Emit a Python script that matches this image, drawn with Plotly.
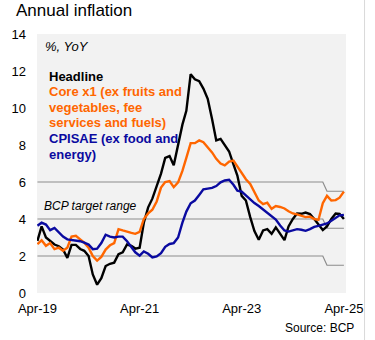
import pandas as pd
import plotly.graph_objects as go

months = pd.date_range("2019-04-01", periods=73, freq="MS")

headline = [2.82, 3.6, 3.0, 2.8, 2.62, 2.53, 2.35, 1.9, 2.6, 2.6, 2.38, 2.28,
            2.0, 1.0, 0.45, 0.8, 1.46, 1.58, 1.64, 2.1, 2.2, 2.62, 2.55, 2.4,
            2.45, 3.8, 4.63, 5.1, 5.75, 6.45, 7.3, 7.4, 6.9, 8.0, 9.1, 9.85,
            11.83, 11.55, 11.45, 11.05, 10.5, 9.4, 8.25, 8.33, 8.0, 7.65, 6.95, 6.35,
            5.25, 5.0, 4.1, 3.35, 2.88, 3.38, 3.45, 3.2, 3.55, 3.2, 2.86, 3.6,
            4.0, 4.3, 4.28, 4.35, 4.27, 4.0, 3.68, 3.4, 3.6, 4.0, 4.3, 4.28, 4.0]

core_x1 = [2.64, 2.85, 2.55, 2.7, 2.37, 2.45, 2.28, 2.45, 3.05, 3.09, 2.9, 2.72,
           2.45, 2.0, 1.75, 1.95, 2.35, 2.58, 2.7, 3.45, 3.38, 3.3, 3.25, 3.2,
           3.3, 4.0, 4.3, 4.5, 4.95, 5.7, 6.0, 6.05, 5.72, 5.98, 6.6, 7.3,
           8.1, 8.1, 8.25, 8.15, 7.9, 7.6, 7.25, 7.0, 6.9, 7.1, 7.16, 6.85,
           6.45, 6.15, 5.9, 5.45, 5.0, 4.8, 4.88, 4.55, 4.7, 4.65, 4.57, 4.42,
           4.3, 4.25, 4.17, 4.1, 4.13, 4.0, 3.95, 4.85, 5.25, 5.0, 5.02, 5.15, 5.48]

cpisae = [3.64, 3.8, 3.7, 3.4, 3.52, 3.3, 3.05, 2.9, 2.86, 2.85, 2.8, 2.72,
          2.62, 2.37, 2.4, 2.7, 3.15, 3.05, 3.0, 3.05, 3.05, 2.8, 2.45, 2.2,
          2.02, 2.25, 2.12, 1.92, 1.98, 2.15, 2.5, 2.65, 2.7, 3.0, 3.8, 4.4,
          4.85, 5.0, 5.3, 5.6, 5.64, 5.68, 5.78, 5.98, 6.08, 6.12, 5.85, 5.53,
          5.48, 5.28, 5.05, 4.86, 4.7, 4.52, 4.32, 4.12, 3.97, 3.65, 3.38, 3.32,
          3.4, 3.45, 3.42, 3.36, 3.45, 3.57, 3.63, 3.68, 3.76, 3.9, 4.07, 4.2, 4.22]

target_upper = [6.0] * 68 + [5.5] * 5
target_mid = [4.0] * 68 + [3.5] * 5
target_lower = [2.0] * 68 + [1.5] * 5

tick_dates = ["2019-04-01", "2021-04-01", "2023-04-01", "2025-04-01"]
tick_labels = ["Apr-19", "Apr-21", "Apr-23", "Apr-25"]
y_ticks = [0, 2, 4, 6, 8, 10, 12, 14]

FONT = "Liberation Sans, Arial, sans-serif"
ORANGE = "#FF6600"
BLUE = "#0A0AA0"
GREY = "#8C8C8C"

fig = go.Figure()
for tgt in (target_upper, target_mid, target_lower):
    fig.add_trace(go.Scatter(x=months, y=tgt, mode="lines",
                             line=dict(color=GREY, width=1.2), hoverinfo="skip"))
fig.add_trace(go.Scatter(x=months, y=headline, mode="lines", name="Headline",
                         line=dict(color="#000000", width=2.4)))
fig.add_trace(go.Scatter(x=months, y=core_x1, mode="lines", name="Core x1",
                         line=dict(color=ORANGE, width=2.4)))
fig.add_trace(go.Scatter(x=months, y=cpisae, mode="lines", name="CPISAE",
                         line=dict(color=BLUE, width=2.4)))

L, T, W, H = 28, 34, 325, 259


def px(x):
    return (x - L) / W


def py(y):
    return (T + H - y) / H


def note(text, x, y, color="#000", size=13, bold=False, italic=False, xanchor="left"):
    if bold:
        text = "<b>" + text + "</b>"
    if italic:
        text = "<i>" + text + "</i>"
    fig.add_annotation(text=text, x=px(x), y=py(y), xref="paper", yref="paper",
                       xanchor=xanchor, yanchor="middle", showarrow=False,
                       font=dict(family=FONT, size=size, color=color))


note("Annual inflation", 4, 11, size=17)
note("%, YoY", 34, 46, italic=True)
note("Headline", 38.5, 76, bold=True)
note("Core x1 (ex fruits and", 38.5, 91.7, color=ORANGE, bold=True)
note("vegetables, fee", 38.5, 107, color=ORANGE, bold=True)
note("services and fuels)", 38.5, 122.5, color=ORANGE, bold=True)
note("CPISAE (ex food and", 38.5, 138, color=BLUE, bold=True)
note("energy)", 38.5, 154, color=BLUE, bold=True)
note("BCP target range", 33, 206, size=12, italic=True)
note("Source: BCP", 364, 328, size=12, xanchor="right")

# faint outer frame line on the right edge of the chart
fig.add_shape(type="line", xref="paper", yref="paper",
              x0=px(372.5), x1=px(372.5), y0=py(0), y1=py(340),
              line=dict(color="#D9D9D9", width=1))

fig.update_layout(
    width=375, height=340,
    margin=dict(l=L, r=375 - L - W, t=T, b=340 - T - H),
    paper_bgcolor="white", plot_bgcolor="#F2F2F2",
    showlegend=False,
    font=dict(family=FONT, size=13, color="#000"),
)
fig.update_xaxes(range=["2019-03-29", "2025-04-16"], tickvals=tick_dates, ticktext=tick_labels,
                 showgrid=False, zeroline=False, showline=False, ticks="",
                 ticklabelstandoff=6, tickfont=dict(size=13))
fig.update_yaxes(range=[0, 14], tickvals=y_ticks, showgrid=False, zeroline=False,
                 showline=False, ticks="", ticklabelstandoff=10, tickfont=dict(size=13))

fig.write_html("out.html")
